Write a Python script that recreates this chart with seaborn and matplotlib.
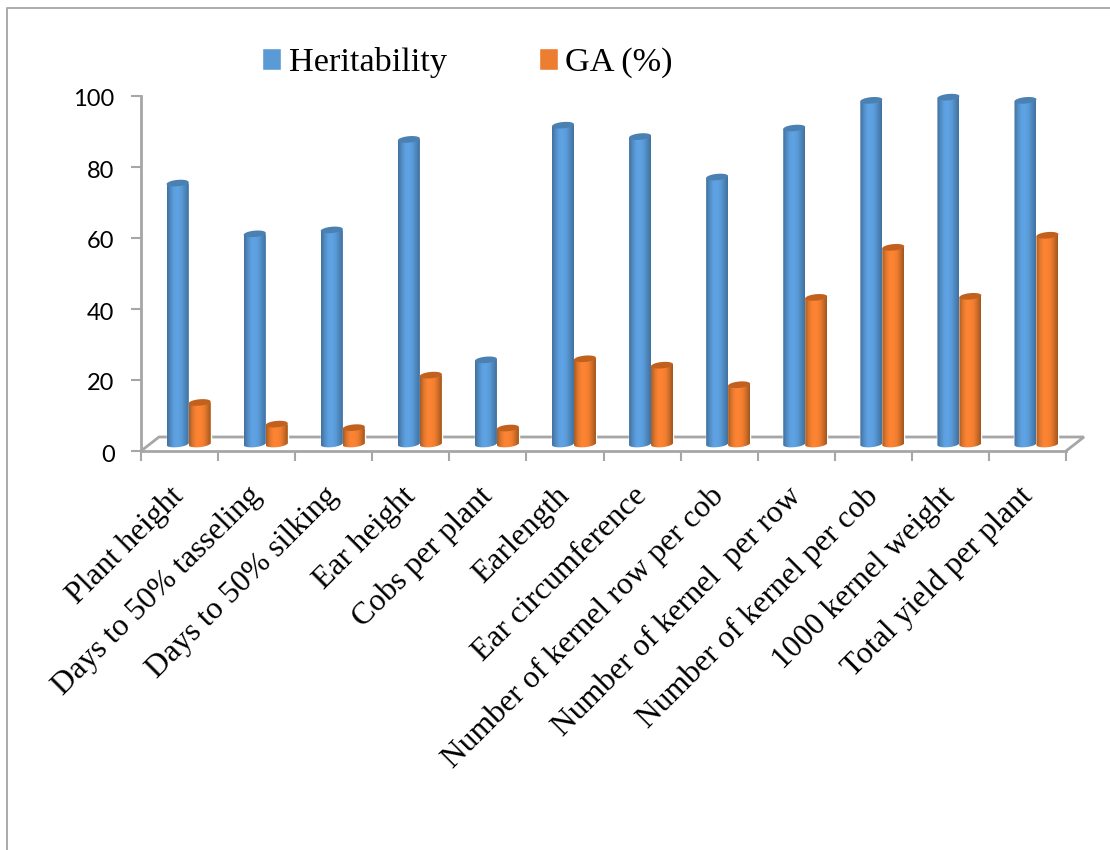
import numpy as np
import pandas as pd
import matplotlib
matplotlib.use("Agg")
import matplotlib.pyplot as plt
from matplotlib.colors import LinearSegmentedColormap
from matplotlib.lines import Line2D
from matplotlib.patches import Polygon
from matplotlib.path import Path
from matplotlib.transforms import ScaledTranslation
import seaborn as sns

traits = [
    "Plant height", "Days to 50% tasseling", "Days to 50% silking", "Ear height",
    "Cobs per plant", "Earlength", "Ear circumference", "Number of kernel row per cob",
    "Number of kernel  per row", "Number of kernel per cob", "1000 kernel weight",
    "Total yield per plant",
]
heritability = [73.5, 59.2, 60.3, 85.8, 23.7, 89.8, 86.6, 75.2, 89.0, 96.8, 97.7, 96.8]
genetic_advance = [11.7, 5.6, 4.6, 19.4, 4.5, 24.0, 22.2, 16.7, 41.3, 55.4, 41.6, 58.8]
y_ticks = [0, 20, 40, 60, 80, 100]

BLUE = "#5B9BD5"
ORANGE = "#ED7D31"
AXIS_GREY = "#A6A6A6"
SERIF = "Liberation Serif"

sns.set_theme(style="white")
plt.rcParams["font.family"] = ["Lato", "DejaVu Sans"]

table = pd.DataFrame({
    "trait": traits * 2,
    "value": heritability + genetic_advance,
    "series": ["Heritability"] * len(traits) + ["GA (%)"] * len(traits),
})

W, H = 1110, 850
fig = plt.figure(figsize=(W / 100, H / 100), dpi=100, facecolor="white")


def px_box(x0, y_bottom, x1, y_top):
    return [x0 / W, (H - y_bottom) / H, (x1 - x0) / W, (y_bottom - y_top) / H]


# Front plane: carries the value axis, the ticks and the category labels.
front = fig.add_axes(px_box(141, 451, 1066, 96))
front.set_xlim(0, len(traits))
front.set_ylim(0, 100)
front.patch.set_visible(False)
sns.despine(ax=front, top=True, right=True)
for side in ("left", "bottom"):
    front.spines[side].set_color(AXIS_GREY)
    front.spines[side].set_linewidth(2)
front.set_yticks(y_ticks)
front.set_xticks(range(len(traits) + 1), labels=[""] * (len(traits) + 1))
front.set_xticks(np.arange(len(traits)) + 0.37, labels=traits, minor=True)
front.tick_params(axis="both", which="major", length=7, width=1.5, color=AXIS_GREY, left=True, bottom=True)
front.tick_params(axis="y", labelsize=17, pad=12, labelcolor="black")
front.tick_params(axis="x", which="minor", length=0, pad=22)
for label in front.get_xticklabels(minor=True):
    label.set(rotation=45, ha="right", va="top", rotation_mode="anchor",
              family=SERIF, fontsize=22.8, color="black")
nudge_down = ScaledTranslation(0, -2 / 100, fig.dpi_scale_trans)
for label in front.get_yticklabels():
    label.set_transform(label.get_transform() + nudge_down)

# Floor of the chart, receding from the front plane.
dx, dy = 18 / 925, 14 / 355
floor_x = [0, dx, 1 + dx, 1]
floor_y = [0, dy, dy, 0]
front.add_line(Line2D(floor_x, floor_y, transform=front.transAxes, color=AXIS_GREY,
                      lw=2, clip_on=False, solid_joinstyle="miter"))

# Bars stand mid-way across the floor, so their axes sit half the depth further back.
bars = fig.add_axes(px_box(150, 444, 1075, 89))
bars.patch.set_visible(False)
sns.barplot(data=table, x="trait", y="value", hue="series", order=traits,
            hue_order=["Heritability", "GA (%)"], palette=[BLUE, ORANGE],
            width=0.57, gap=0, dodge=True, saturation=1, ax=bars, legend=True)
handles, names = bars.get_legend_handles_labels()
bars.get_legend().remove()
bars.set_xlim(-0.5, len(traits) - 0.5)
bars.set_ylim(0, 100)
bars.axis("off")
bars.set_autoscale_on(False)

shades = {
    BLUE: LinearSegmentedColormap.from_list(
        "cyl_blue", ["#41719F", "#528CC2", "#5DA1E2", "#5FA3E4", "#5A9AD6", "#4C86BC", "#41719F"]),
    ORANGE: LinearSegmentedColormap.from_list(
        "cyl_orange", ["#A85C22", "#E0762C", "#FB8333", "#FC8433", "#F27E30", "#CF6C28", "#A0571F"]),
}
cap_colours = {BLUE: "#4A80B2", ORANGE: "#C2611D"}
ramp = np.linspace(0, 1, 64).reshape(1, -1)

semi_h = 3.2 / 3.55   # half height of the elliptical ends, in value units
tilt = 1.0 / 3.55     # the ends lean slightly upward to the right
theta = np.linspace(0, 2 * np.pi, 73)

for container, colour in zip(bars.containers, (BLUE, ORANGE)):
    for rect in container:
        rect.set_clip_on(False)
        left, width, top = rect.get_x(), rect.get_width(), rect.get_height()
        mid = left + width / 2
        ex = mid + width / 2 * np.cos(theta)
        lean = tilt * np.cos(theta)
        ey_sin = semi_h * np.sin(theta)
        lower = theta[36:]
        bx = mid + width / 2 * np.cos(lower)
        by = semi_h * np.sin(lower) + tilt * np.cos(lower)
        outline = np.vstack([np.column_stack([bx, by]),
                             [[left + width, top + tilt], [left, top - tilt]]])
        body = Path(np.vstack([outline, outline[0]]), closed=True)
        img = bars.imshow(ramp, cmap=shades[colour], aspect="auto", zorder=3,
                          extent=(left, left + width, -2 * semi_h, top + 2 * semi_h),
                          interpolation="bilinear")
        # The rounded foot of each cylinder hangs just below the axes box.
        img.set_clip_box(fig.bbox)
        img.set_clip_path(body, transform=bars.transData)
        bars.add_patch(Polygon(np.column_stack([ex, top + ey_sin + lean]), closed=True,
                               facecolor=cap_colours[colour], edgecolor="none",
                               zorder=4, clip_on=False))
bars.set_xlim(-0.5, len(traits) - 0.5)
bars.set_ylim(0, 100)

fig.legend(handles, names, ncol=2, frameon=False, loc="upper left",
           bbox_to_anchor=(262 / W, 1 - 47 / H), borderaxespad=0, borderpad=0,
           prop={"family": SERIF, "size": 24.7}, labelcolor="black",
           handlelength=0.56, handleheight=0.6, handletextpad=0.22, columnspacing=2.68)

# Thin frame along the top and left of the canvas.
fig.add_artist(Line2D([7 / W, 7 / W, 1], [0, 1 - 8 / H, 1 - 8 / H],
                      transform=fig.transFigure, color="#ABABAB", lw=1.4))

fig.savefig("out.png", dpi=100, facecolor="white")
